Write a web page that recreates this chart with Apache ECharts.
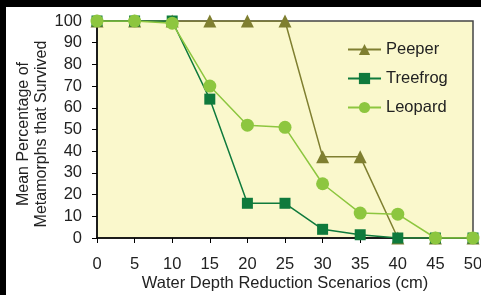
<!DOCTYPE html>
<html>
<head>
<meta charset="utf-8">
<script src="https://cdn.jsdelivr.net/npm/echarts@6/dist/echarts.min.js"></script>
<style>
  html, body { margin: 0; padding: 0; background: #fff; }
  #chart { width: 481px; height: 295px; }
</style>
</head>
<body>
<div id="chart"></div>
<script>
// water depth reduction (cm)
var depths = [0, 5, 10, 15, 20, 25, 30, 35, 40, 45, 50];
// mean % of metamorphs that survived
var peeper   = [100, 100, 100, 100, 100, 100, 37.5, 37.5, 0, 0, 0];
var treefrog = [100, 100, 100, 64, 16, 16, 4, 1.5, 0, 0, 0];
var leopard  = [100, 100, 99, 70, 52, 51, 25, 11.5, 11, 0, 0];

function pairs(vals) {
    var out = [];
    for (var i = 0; i < depths.length; i++) {
        out.push([depths[i], vals[i]]);
    }
    return out;
}

var font = 'Liberation Sans, Arial, sans-serif';
var fs = 16.5;
var myChart = echarts.init(document.getElementById('chart'));

var option = {
    animation: false,
    backgroundColor: '#fff',
    textStyle: { fontFamily: font },
    graphic: [
        { type: 'rect', shape: { x: 0, y: 0, width: 481, height: 7 }, style: { fill: '#000' } },
        { type: 'rect', shape: { x: 0, y: 0, width: 6, height: 295 }, style: { fill: '#000' } }
    ],
    grid: {
        left: 97, top: 21, right: 8, bottom: 57,
        containLabel: false,
        outerBoundsMode: 'none',
        show: true,
        backgroundColor: '#faf8cc',
        borderColor: '#444',
        borderWidth: 1.5
    },
    legend: {
        orient: 'vertical',
        left: 342, top: 36,
        itemWidth: 33, itemHeight: 14, itemGap: 12,
        textStyle: { fontSize: fs, color: '#222', fontFamily: font },
        data: ['Peeper', 'Treefrog', 'Leopard']
    },
    xAxis: {
        type: 'value',
        min: 0, max: 50, interval: 5,
        name: 'Water Depth Reduction Scenarios (cm)',
        nameLocation: 'middle',
        nameGap: 37,
        nameMoveOverlap: false,
        nameTextStyle: { fontSize: fs, color: '#222', fontFamily: font },
        axisLine: { lineStyle: { color: '#000', width: 1.5 } },
        axisTick: { show: true, length: 5, lineStyle: { color: '#000' } },
        axisLabel: { fontSize: fs, color: '#222', margin: 18 },
        splitLine: { show: false }
    },
    yAxis: {
        type: 'value',
        min: 0, max: 100, interval: 10,
        name: 'Mean Percentage of\nMetamorphs that Survived',
        nameLocation: 'middle',
        nameGap: 46,
        nameMoveOverlap: false,
        nameTextStyle: { fontSize: 16, color: '#222', lineHeight: 18, fontFamily: font, padding: [0, 9, 0, 0] },
        axisLine: { show: true, lineStyle: { color: '#000', width: 1.5 } },
        axisTick: { show: true, length: 5, lineStyle: { color: '#000' } },
        axisLabel: { fontSize: fs, color: '#222', margin: 15 },
        splitLine: { show: false }
    },
    series: [
        {
            name: 'Peeper', type: 'line', data: pairs(peeper),
            symbol: 'triangle', symbolSize: 13,
            itemStyle: { color: '#7f7f30' },
            lineStyle: { color: '#7f7f30', width: 1.5 }
        },
        {
            name: 'Treefrog', type: 'line', data: pairs(treefrog),
            symbol: 'rect', symbolSize: 11,
            itemStyle: { color: '#0f7a3c' },
            lineStyle: { color: '#0f7a3c', width: 1.5 }
        },
        {
            name: 'Leopard', type: 'line', data: pairs(leopard),
            symbol: 'circle', symbolSize: 13,
            itemStyle: { color: '#8dc63f' },
            lineStyle: { color: '#8dc63f', width: 1.5 }
        }
    ]
};

myChart.setOption(option);
</script>
</body>
</html>
